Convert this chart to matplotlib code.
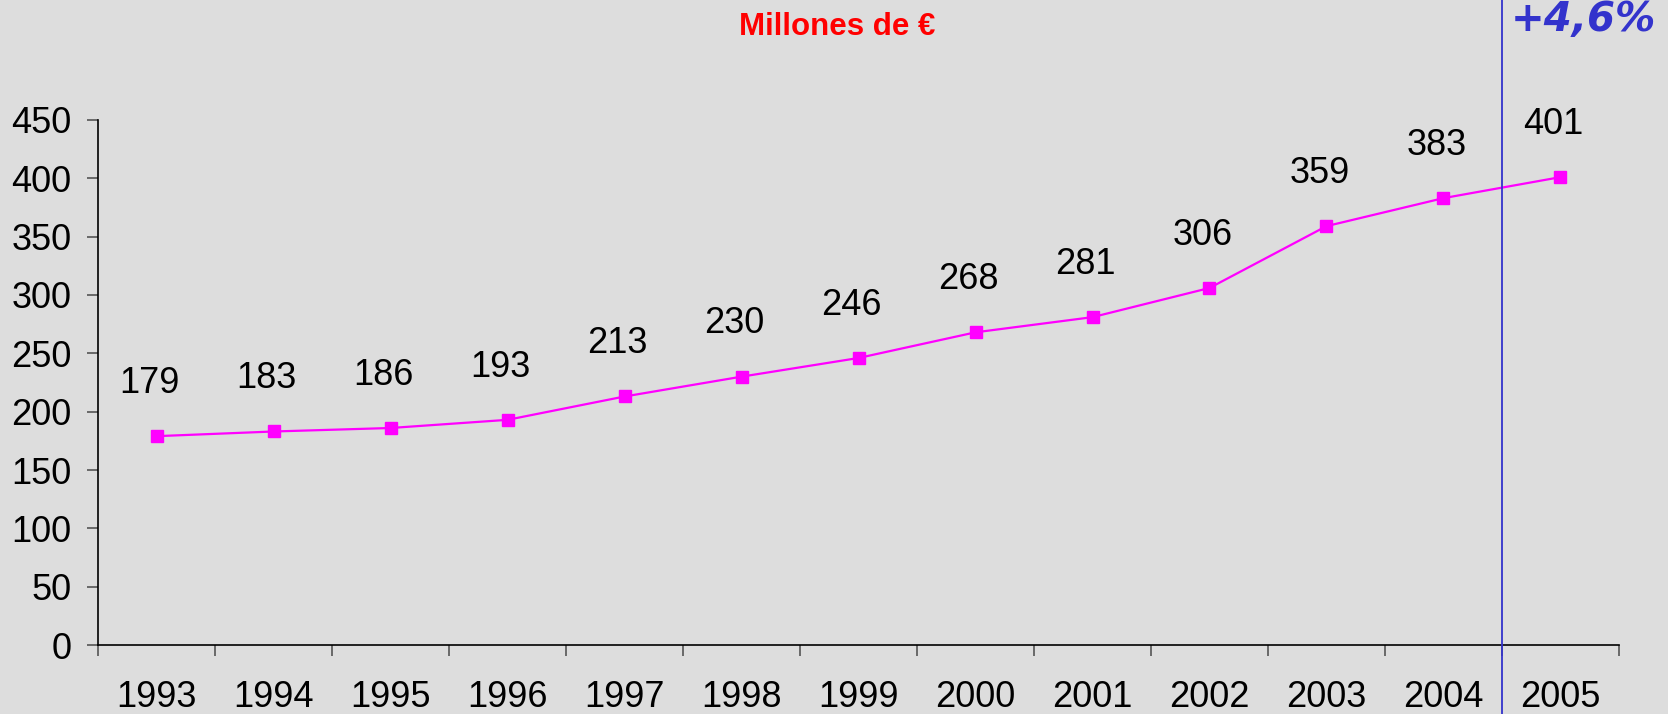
import numpy as np
import matplotlib.pyplot as plt
from matplotlib.ticker import FixedLocator, NullFormatter

years = ["1993", "1994", "1995", "1996", "1997", "1998", "1999",
         "2000", "2001", "2002", "2003", "2004", "2005"]
values = [179, 183, 186, 193, 213, 230, 246, 268, 281, 306, 359, 383, 401]
growth_label = "+4,6%"

plt.rcParams['font.family'] = ['Liberation Sans', 'DejaVu Sans']

fig = plt.figure(figsize=(16.68, 7.14), dpi=100, facecolor='#dddddd')
ax = fig.add_axes([0.0588, 0.0966, 0.9118, 0.7354])
ax.set_facecolor('#dddddd')

x = np.arange(len(years))
ax.plot(x, values, color='#ff00ff', lw=1.6, marker='s', markersize=9,
        markeredgecolor='#ff00ff', zorder=3)

for xi, v in zip(x, values):
    ax.annotate(str(v), (xi, v), xytext=(-5, 38), textcoords='offset points',
                ha='center', va='center', fontsize=26, color='black')

ax.set_xlim(-0.5, len(years) - 0.5)
ax.set_ylim(0, 450)
ax.set_yticks(np.arange(0, 451, 50))

ax.xaxis.set_major_locator(FixedLocator(np.arange(-0.5, len(years), 1.0)))
ax.xaxis.set_major_formatter(NullFormatter())
ax.xaxis.set_minor_locator(FixedLocator(x))
ax.set_xticklabels(years, minor=True)
ax.tick_params(axis='x', which='major', direction='out', length=8, width=1.2, color='#555555')
ax.tick_params(axis='x', which='minor', length=0, pad=25, labelsize=26)
ax.tick_params(axis='y', direction='out', length=8, width=1.2, color='#555555', pad=11, labelsize=26)

for s in ['top', 'right']:
    ax.spines[s].set_visible(False)
for s in ['left', 'bottom']:
    ax.spines[s].set_color('black')
    ax.spines[s].set_linewidth(1.2)

ax.axvline(11.5, ymin=-0.3, ymax=1.4, color='#3333cc', lw=1.3, clip_on=False, zorder=4)

fig.text(0.502, 0.962, "Millones de €", color='#ff0000', fontsize=22.5,
         fontweight='bold', ha='center', va='center')
fig.text(0.906, 0.972, growth_label, color='#3333cc', fontsize=29,
         fontweight='bold', style='italic', family='DejaVu Sans',
         ha='left', va='center')

fig.savefig('out.png', dpi=100, facecolor=fig.get_facecolor())
